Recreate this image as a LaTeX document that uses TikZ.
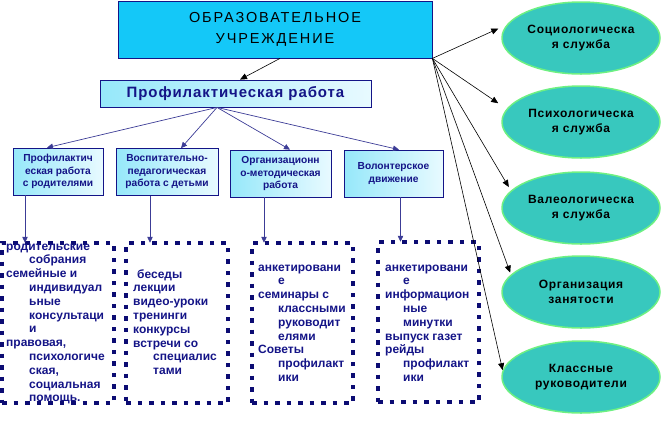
\documentclass[tikz,border=0pt]{standalone}
\usepackage{fontspec}
\setmainfont{Liberation Sans}
\usetikzlibrary{arrows.meta,shapes.geometric,calc}
\definecolor{navytxt}{RGB}{20,20,135}
\definecolor{dashnavy}{RGB}{12,12,115}
\definecolor{arrnavy}{RGB}{60,60,150}
\definecolor{maincyan}{RGB}{20,200,248}
\definecolor{boxlight}{RGB}{150,232,250}
\definecolor{boxwhite}{RGB}{232,250,255}
\definecolor{tealfill}{RGB}{56,200,190}
\definecolor{greenedge}{RGB}{110,240,130}
\begin{document}
\begin{tikzpicture}[x=1pt,y=-1pt,
  mainbox/.style={draw=navytxt,line width=0.8pt,fill=maincyan,minimum width=314pt,minimum height=57pt,inner sep=0pt,align=center,
    font=\fontsize{14.5}{21}\selectfont\addfontfeature{LetterSpace=13}},
  profbox/.style={draw=navytxt,line width=0.8pt,left color=boxlight,right color=boxwhite,minimum width=271pt,minimum height=27pt,inner sep=0pt,
    text=navytxt,font=\fontsize{15}{17}\selectfont\bfseries\addfontfeature{LetterSpace=6}},
  subbox/.style={draw=navytxt,line width=0.7pt,left color=boxlight,right color=boxwhite,minimum height=47pt,inner sep=0pt,align=center,
    text=navytxt,font=\fontsize{10.2}{12.5}\selectfont\bfseries},
  dashbox/.style={draw=dashnavy,line width=4.5pt,dash pattern=on 4.5pt off 7pt,minimum height=160pt,inner sep=0pt},
  listtxt/.style={anchor=north west,inner sep=0pt,align=left,text=navytxt,font=\fontsize{12}{13.8}\selectfont\bfseries},
  service/.style={ellipse,draw=greenedge,line width=1.5pt,fill=tealfill,minimum width=158pt,minimum height=72pt,inner sep=0pt,align=center,
    font=\fontsize{12}{15}\selectfont\bfseries\addfontfeature{LetterSpace=6}},
  blackarr/.style={draw=black,line width=0.6pt,-{Triangle[length=7pt,width=6pt]}},
  navyarr/.style={draw=arrnavy,line width=0.7pt,-{Triangle[length=6pt,width=5.5pt]}}
]
\useasboundingbox (0,0) rectangle (664,421);

% main boxes
\node[mainbox] (main) at (275,29.5) {ОБРАЗОВАТЕЛЬНОЕ\\УЧРЕЖДЕНИЕ};
\node[profbox] (prof) at (235.5,93.5) {Профилактическая работа};

% sub boxes
\node[subbox,minimum width=90pt] (s1) at (58,171.5) {Профилактич\\еская работа\\с родителями};
\node[subbox,minimum width=102pt] (s2) at (167,172) {Воспитательно-\\педагогическая\\работа с детьми};
\node[subbox,minimum width=101pt] (s3) at (280.5,173.5) {Организационн\\о-методическая\\работа};
\node[subbox,minimum width=99pt] (s4) at (393.5,173.5) {Волонтерское\\движение};

% dashed boxes
\node[dashbox,minimum width=112pt] (dA) at (58,323) {};
\node[dashbox,minimum width=102pt] (dB) at (177,323) {};
\node[dashbox,minimum width=101pt] (dC) at (302.5,323) {};
\node[dashbox,minimum width=101pt] (dD) at (428.5,322) {};

% list texts
\node[listtxt] (tA) at (6,240.3) {\strut родительские\\
\hspace*{23pt}собрания\\
семейные и\\
\hspace*{23pt}индивидуал\\
\hspace*{23pt}ьные\\
\hspace*{23pt}консультаци\\
\hspace*{23pt}и\\
правовая,\\
\hspace*{23pt}психологиче\\
\hspace*{23pt}ская,\\
\hspace*{23pt}социальная\\
\hspace*{23pt}помощь.};
\node[listtxt] (tB) at (133,268.3) {\strut\hspace*{4pt}беседы\\
лекции\\
видео-уроки\\
тренинги\\
конкурсы\\
встречи со\\
\hspace*{20pt}специалис\\
\hspace*{20pt}тами};
\node[listtxt] (tC) at (258,261.3) {\strut анкетировани\\
\hspace*{20pt}е\\
семинары с\\
\hspace*{20pt}классными\\
\hspace*{20pt}руководит\\
\hspace*{20pt}елями\\
Советы\\
\hspace*{20pt}профилакт\\
\hspace*{20pt}ики};
\node[listtxt] (tD) at (385,261.3) {\strut анкетировани\\
\hspace*{18pt}е\\
информацион\\
\hspace*{18pt}ные\\
\hspace*{18pt}минутки\\
выпуск газет\\
рейды\\
\hspace*{18pt}профилакт\\
\hspace*{18pt}ики};

% services
\node[service] (e1) at (581,38) {Социологическа\\я служба};
\node[service] (e2) at (581,122) {Психологическа\\я служба};
\node[service] (e3) at (581,208) {Валеологическа\\я служба};
\node[service] (e4) at (581,292) {Организация\\занятости};
\node[service] (e5) at (581,377) {Классные\\руководители};

% connectors
\draw[blackarr] ([xshift=5pt]main.south) -- ([xshift=4.5pt]prof.north);
\coordinate (po) at ($(prof.south)+(-18.5pt,0)$);
\draw[navyarr] (po) -- ([xshift=-11pt]s1.north);
\draw[navyarr] (po) -- ([xshift=14pt]s2.north);
\draw[navyarr] (po) -- ([xshift=9.5pt]s3.north);
\draw[navyarr] (po) -- ([xshift=5.5pt]s4.north);

\draw[navyarr] ([xshift=-33pt]s1.south) -- ([xshift=-33pt,yshift=-2pt]s1.south |- dA.north);
\draw[navyarr] ([xshift=-17pt]s2.south) -- ([xshift=-17pt,yshift=-2pt]s2.south |- dB.north);
\draw[navyarr] ([xshift=-16.5pt]s3.south) -- ([xshift=-16.5pt,yshift=-2pt]s3.south |- dC.north);
\draw[navyarr] ([xshift=7pt]s4.south) -- ([xshift=7pt,yshift=-2pt]s4.south |- dD.north);

\draw[blackarr,shorten >=9pt] (main.south east) -- (e1.170);
\draw[blackarr,shorten >=10pt] (main.south east) -- (e2.170);
\draw[blackarr,shorten >=4pt] (main.south east) -- (e3.166);
\draw[blackarr,shorten >=2pt] (main.south east) -- (e4.166);
\draw[blackarr] (main.south east) -- (e5.175);
\end{tikzpicture}
\end{document}
